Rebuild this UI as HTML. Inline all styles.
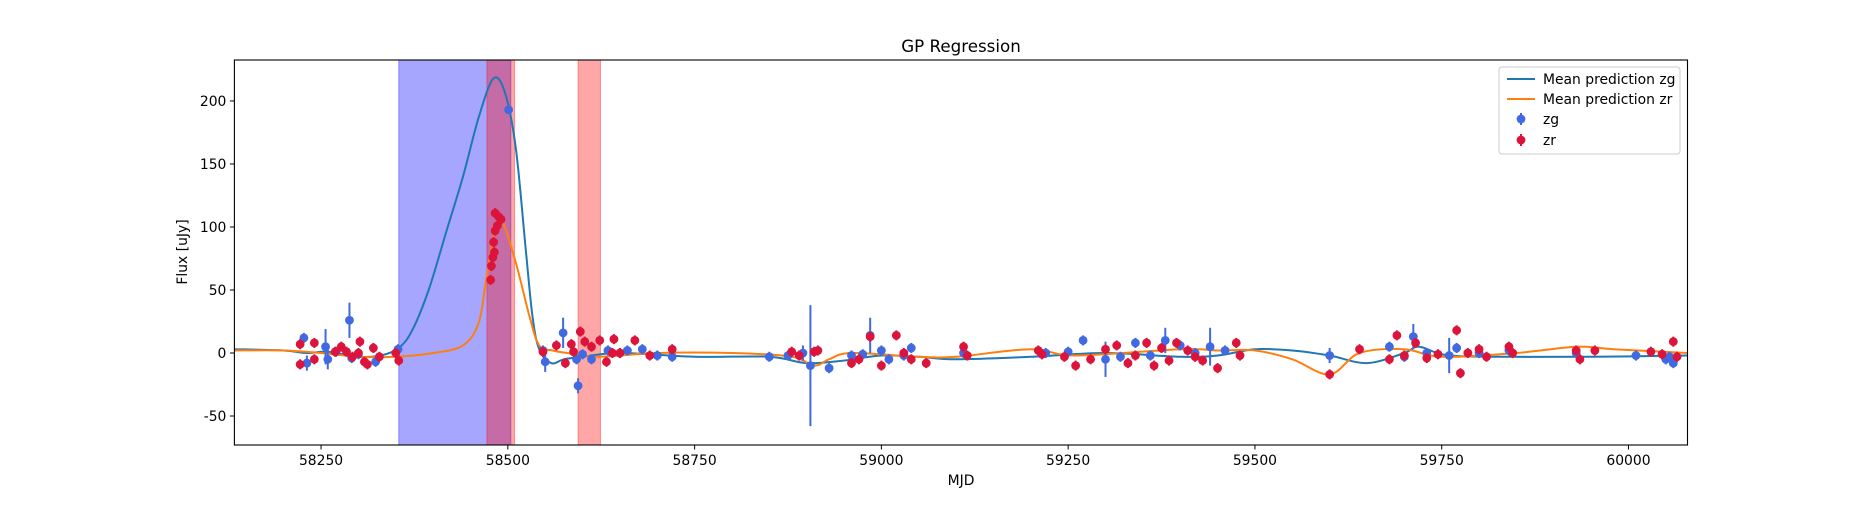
<!DOCTYPE html>
<html><head><meta charset="utf-8"><style>
html,body{margin:0;padding:0;background:#fff;}
svg text{font-family:"DejaVu Sans","Liberation Sans",sans-serif;fill:#000;}
</style></head><body>
<svg id="chart" width="1875" height="500" viewBox="0 0 1875 500" xmlns="http://www.w3.org/2000/svg">
<g id="spans"></g><g id="curves"></g><g id="points"></g><g id="axes"></g><g id="legend"></g>
</svg>
<script>
const xTicks=[58250,58500,58750,59000,59250,59500,59750,60000];
const yTicks=[-50,0,50,100,150,200];
const gSpans=[[58354,58504]];
const rSpans=[[58472,58509],[58594,58624]];
const zgCurveT=[58134,58200,58230,58260,58300,58330,58354,58372,58394,58418,58440,58461,58481,58497,58511,58524,58533,58542,58558,58575,58600,58650,58750,58850,58900,58950,59000,59050,59100,59200,59300,59400,59450,59500,59550,59600,59650,59700,59720,59760,59850,59950,60079];
const zgCurveF=[3,2,0,1,-3,-2,4,18,50,97,140,187,218,205,161,82,29,3,-8,-5,-3,0,-3,-3,-8,-6,-2,-3,-5,-3,0,-3,-2,3,2,-2,-8,0,5,-2,-3,-3,-2];
const zrCurveT=[58134,58200,58250,58300,58350,58400,58440,58461,58471,58482,58492,58511,58529,58542,58560,58580,58620,58700,58800,58880,58910,58930,58960,59050,59100,59200,59260,59400,59450,59500,59550,59600,59640,59700,59750,59850,59930,59980,60079];
const zrCurveF=[2,2,0,-3,-3,0,6,24,58,95,105,71,29,6,2,0,-3,0,0,-3,-10,-5,0,-3,-3,3,-2,3,2,2,-5,-17,0,3,-3,0,5,3,0];
const zgT=[58227,58231,58256,58259,58270,58288,58291,58300,58323,58353,58501,58547,58550,58574,58592,58594,58600,58612,58634,58650,58660,58680,58700,58720,58850,58875,58895,58905,58930,58960,58975,58985,59000,59010,59030,59040,59110,59220,59250,59270,59300,59320,59340,59360,59380,59400,59420,59440,59460,59600,59680,59700,59712,59730,59760,59770,59800,59840,59930,60010,60050,60055,60060];
const zgF=[12,-8,5,-5,1,26,-4,-1,-7,3,193,2,-7,16,-5,-26,-1,-5,2,0,2,3,-2,-3,-3,-2,0,-10,-12,-2,-1,14,2,-5,-2,4,0,0,1,10,-5,-3,8,-2,10,6,0,5,2,-2,5,-3,13,0,-2,4,0,2,0,-2,-5,-3,-8];
const zgE=[4,6,14,8,4,14,4,4,4,4,2,4,8,12,4,6,4,4,4,4,4,4,4,4,4,4,6,48,4,4,4,14,4,4,4,4,4,4,4,4,14,4,4,4,10,4,4,15,4,6,4,4,10,4,14,4,4,4,4,4,4,4,4];
const zrT=[58222,58222,58241,58241,58269,58277,58284,58292,58300,58302,58308,58312,58320,58328,58350,58354,58477,58478,58480,58481,58482,58483,58483,58486,58488,58491,58547,58565,58577,58585,58588,58597,58603,58612,58623,58632,58640,58642,58650,58670,58690,58720,58880,58890,58910,58915,58960,58970,58985,59000,59020,59030,59040,59060,59110,59115,59210,59215,59245,59260,59280,59300,59315,59330,59340,59355,59365,59375,59385,59395,59410,59420,59430,59450,59475,59480,59600,59640,59680,59690,59700,59715,59730,59745,59770,59775,59785,59800,59810,59840,59845,59930,59935,59955,60030,60045,60060,60065];
const zrF=[7,-9,8,-5,1,5,1,-3,0,9,-7,-9,4,-3,0,-6,58,69,76,88,80,97,111,101,108,106,1,6,-8,7,1,17,9,5,10,-7,0,11,0,10,-2,3,1,-2,1,2,-8,-5,13,-10,14,0,-5,-8,5,-2,2,-1,-3,-10,-5,3,6,-8,-2,8,-10,4,-6,8,2,-3,-6,-12,8,-2,-17,3,-5,14,-2,8,-4,-1,18,-16,0,3,-3,5,0,2,-5,2,1,-1,9,-3];
const XMIN=58134,XMAX=60079,YMIN=-73,YMAX=232.5;
const L=234.4,R=1687.5,T=60,B=445;
const sx=v=>L+(v-XMIN)/(XMAX-XMIN)*(R-L);
const sy=v=>B-(v-YMIN)/(YMAX-YMIN)*(B-T);
const NS='http://www.w3.org/2000/svg';
function mk(tag,attrs,parent){const e=document.createElementNS(NS,tag);for(const k in attrs)e.setAttribute(k,attrs[k]);parent.appendChild(e);return e;}
const spans=document.getElementById('spans');
gSpans.forEach(s=>{const r=mk('rect',{x:sx(s[0]),y:T,width:sx(s[1])-sx(s[0]),height:B-T,fill:'#0000ff','fill-opacity':0.35,stroke:'#0000ff','stroke-opacity':0.35},spans);

});
rSpans.forEach(s=>{const r=mk('rect',{x:sx(s[0]),y:T,width:sx(s[1])-sx(s[0]),height:B-T,fill:'#ff0000','fill-opacity':0.35,stroke:'#ff0000','stroke-opacity':0.35},spans);

});
function smooth(ts,fs){const p=ts.map((t,i)=>[sx(t),sy(fs[i])]);let d='M'+p[0][0]+','+p[0][1];
for(let i=0;i<p.length-1;i++){const p0=p[Math.max(0,i-1)],p1=p[i],p2=p[i+1],p3=p[Math.min(p.length-1,i+2)];
d+=' C'+(p1[0]+(p2[0]-p0[0])/6)+','+(p1[1]+(p2[1]-p0[1])/6)+' '+(p2[0]-(p3[0]-p1[0])/6)+','+(p2[1]-(p3[1]-p1[1])/6)+' '+p2[0]+','+p2[1];}return d;}
const curves=document.getElementById('curves');
const cg=mk('path',{d:smooth(zgCurveT,zgCurveF),fill:'none',stroke:'#1f77b4','stroke-width':2},curves);


const cr=mk('path',{d:smooth(zrCurveT,zrCurveF),fill:'none',stroke:'#ff7f0e','stroke-width':2},curves);


const pts=document.getElementById('points');
function drawPts(ts,fs,es,col,name){ts.forEach((t,i)=>{const e=es?es[i]:4;
const g=mk('g',{},pts);


mk('line',{x1:sx(t),x2:sx(t),y1:sy(fs[i]-e),y2:sy(fs[i]+e),stroke:col,'stroke-width':2},g);
mk('circle',{cx:sx(t),cy:sy(fs[i]),r:4.4,fill:col},g);});}
drawPts(zgT,zgF,zgE,'#4169e1','zg');
drawPts(zrT,zrF,null,'#dc143c','zr');
const ax=document.getElementById('axes');
const fr=mk('rect',{x:L,y:T,width:R-L,height:B-T,fill:'none',stroke:'#000','stroke-width':1.1},ax);


xTicks.forEach(v=>{mk('line',{x1:sx(v),x2:sx(v),y1:B,y2:B+4.5,stroke:'#000'},ax);
const t=mk('text',{x:sx(v),y:B+20,'text-anchor':'middle','font-size':'13.9px'},ax);t.textContent=v;

});
yTicks.forEach(v=>{mk('line',{x1:L-4.5,x2:L,y1:sy(v),y2:sy(v),stroke:'#000'},ax);
const t=mk('text',{x:L-8,y:sy(v)+5,'text-anchor':'end','font-size':'13.9px'},ax);t.textContent=v;

});
</script>
<svg style="position:absolute;left:0;top:0" width="1875" height="500">
<text x="961" y="52" text-anchor="middle" font-size="16.7px">GP Regression</text>
<text x="961" y="485" text-anchor="middle" font-size="13.9px">MJD</text>
<text transform="translate(187,252) rotate(-90)" text-anchor="middle" font-size="13.9px">Flux [uJy]</text>
<g>
<rect x="1499" y="67" width="181" height="87" rx="3" fill="#fff" fill-opacity="0.8" stroke="#ccc"/>
<line x1="1507" x2="1535" y1="79" y2="79" stroke="#1f77b4" stroke-width="2"/>
<text x="1543" y="84" font-size="13.9px">Mean prediction zg</text>
<line x1="1507" x2="1535" y1="99" y2="99" stroke="#ff7f0e" stroke-width="2"/>
<text x="1543" y="104" font-size="13.9px">Mean prediction zr</text>
<line x1="1521" x2="1521" y1="113" y2="125" stroke="#4169e1" stroke-width="2"/><circle cx="1521" cy="119" r="4.4" fill="#4169e1"/>
<text x="1543" y="124" font-size="13.9px">zg</text>
<line x1="1521" x2="1521" y1="134" y2="146" stroke="#dc143c" stroke-width="2"/><circle cx="1521" cy="140" r="4.4" fill="#dc143c"/>
<text x="1543" y="145" font-size="13.9px">zr</text>
</g>
</svg>
</body></html>
